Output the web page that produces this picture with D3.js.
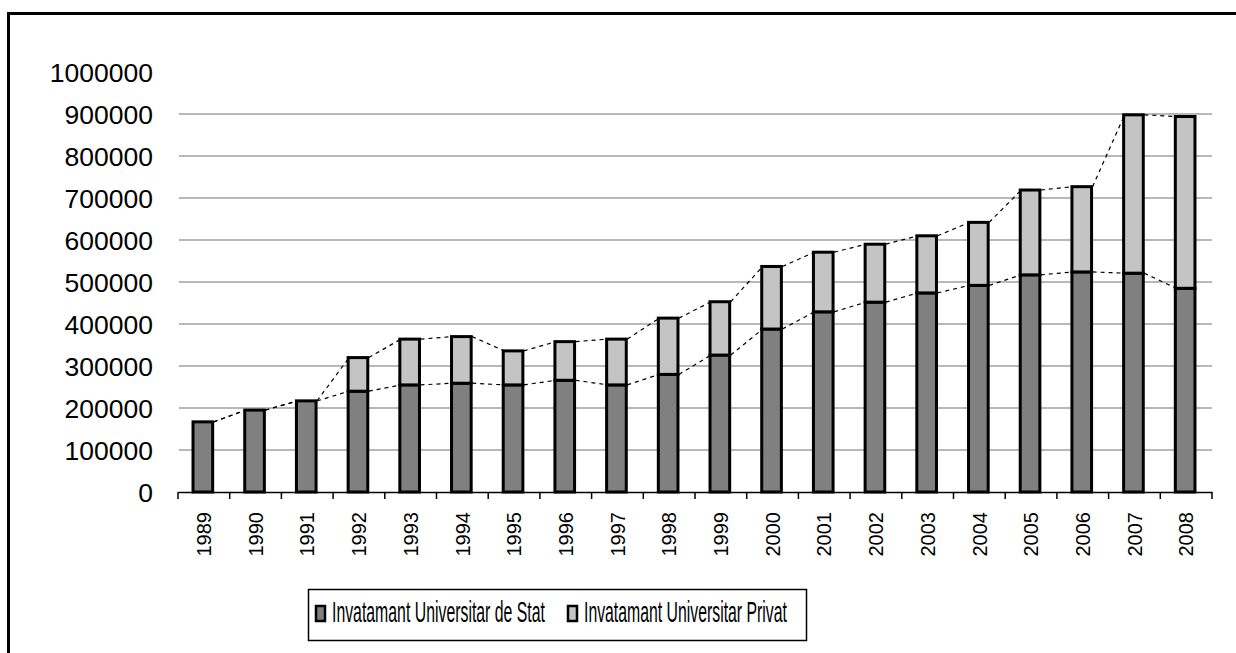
<!DOCTYPE html>
<html><head><meta charset="utf-8">
<script src="https://cdn.jsdelivr.net/npm/d3@7"></script>
<style>body{margin:0;background:#fff}svg{display:block}</style>
</head><body>
<svg id="c" width="1236" height="653"></svg>
<script>
const years = ["1989","1990","1991","1992","1993","1994","1995","1996","1997","1998","1999","2000","2001","2002","2003","2004","2005","2006","2007","2008"];
const stat = [167000,195000,217000,240000,255000,259000,255000,266000,255000,280000,326000,388000,429000,452000,474000,492000,517000,524000,521000,485000];
const privat = [0,0,0,80000,109000,111000,81000,92000,109000,134000,127000,149000,142000,138000,136000,150000,202000,203000,377000,409000];
const seriesNames = ["Invatamant Universitar de Stat","Invatamant Universitar Privat"];
const yTicks = [0,100000,200000,300000,400000,500000,600000,700000,800000,900000,1000000];
const colors = ["#808080","#c4c4c4"];

const svg = d3.select("#c");
// outer frame (extends beyond canvas right/bottom)
svg.append("rect").attr("x",8.5).attr("y",13.5).attr("width",1400).attr("height",800)
  .attr("fill","none").attr("stroke","#000").attr("stroke-width",3);

const x0 = 178, x1 = 1212, yTop = 72, yBot = 492;
const x = d3.scaleBand().domain(years).range([x0,x1]);
const y = d3.scaleLinear().domain([0,1000000]).range([yBot,yTop]);
const bw = x.bandwidth()*0.38;

// gridlines
svg.append("g").selectAll("line").data(yTicks.filter(t=>t>0 && t<1000000)).join("line")
  .attr("x1",x0+1).attr("x2",x1).attr("y1",d=>y(d)).attr("y2",d=>y(d))
  .attr("stroke","#a0a0a0").attr("stroke-width",1.5);

// y axis labels
const yAxis = d3.axisLeft(y).tickValues(yTicks).tickSize(0).tickPadding(0).tickFormat(d3.format("d"));
const gy = svg.append("g").attr("transform",`translate(153,0)`).call(yAxis);
gy.select(".domain").remove();
gy.selectAll("text").attr("font-family","Liberation Sans, Arial, sans-serif").attr("font-size",26.5).attr("fill","#000")
  .attr("dy","0.36em");

const data = years.map((yr,i)=>({yr, s:stat[i], p:privat[i]}));
const stack = d3.stack().keys(["s","p"])(data);

// series lines
stack.forEach(layer=>{
  const segs = [];
  for(let i=0;i<layer.length-1;i++){
    const a = layer[i], b = layer[i+1];
    segs.push([x(years[i])+x.bandwidth()/2+bw/2, y(a[1]), x(years[i+1])+x.bandwidth()/2-bw/2, y(b[1])]);
  }
  svg.append("g").selectAll("line").data(segs).join("line")
    .attr("x1",d=>d[0]).attr("y1",d=>d[1]).attr("x2",d=>d[2]).attr("y2",d=>d[3])
    .attr("stroke","#000").attr("stroke-width",1.2).attr("stroke-dasharray","4,4");
});

// bars
stack.forEach((layer,k)=>{
  svg.append("g").selectAll("rect").data(layer.filter(d=>d[1]-d[0]>0)).join("rect")
    .attr("x",d=>x(d.data.yr)+x.bandwidth()/2-bw/2-1)
    .attr("width",bw)
    .attr("y",d=>y(d[1])).attr("height",d=>y(d[0])-y(d[1]))
    .attr("fill",colors[k]).attr("stroke","#000").attr("stroke-width",3);
});

// x axis
const xAxis = d3.axisBottom(x).tickSize(0).tickPadding(0);
const gx = svg.append("g").attr("transform",`translate(0,${yBot})`).call(xAxis);
gx.select(".domain").attr("stroke","#000").attr("stroke-width",1.5);
gx.selectAll("text").attr("font-family","Liberation Sans, Arial, sans-serif").attr("font-size",20).attr("fill","#000")
  .attr("transform","rotate(-90)").attr("text-anchor","end").attr("x",-20).attr("y",0).attr("dy","0.36em");
// tick marks at band boundaries
const bounds = years.map(d=>x(d)).concat([x1]);
svg.append("g").selectAll("line").data(bounds).join("line")
  .attr("x1",d=>d).attr("x2",d=>d).attr("y1",yBot).attr("y2",yBot+7)
  .attr("stroke","#000").attr("stroke-width",1.5);

// legend
const lg = svg.append("g");
lg.append("rect").attr("x",308.5).attr("y",589.5).attr("width",498).attr("height",51)
  .attr("fill","#fff").attr("stroke","#000").attr("stroke-width",1.5);
const lx = [315,567], tx = [332,584], tw = [213,203];
seriesNames.forEach((n,i)=>{
  lg.append("rect").attr("x",lx[i]+1).attr("y",606).attr("width",9).attr("height",15)
    .attr("fill",colors[i]).attr("stroke","#000").attr("stroke-width",2.5);
  const t = lg.append("text").text(n)
    .attr("font-family","Liberation Sans, Arial, sans-serif").attr("font-size",22).attr("fill","#000");
  const w = t.node().getComputedTextLength();
  t.attr("transform",`translate(${tx[i]},622) scale(${tw[i]/w},1.3)`);
});
</script>
</body></html>
